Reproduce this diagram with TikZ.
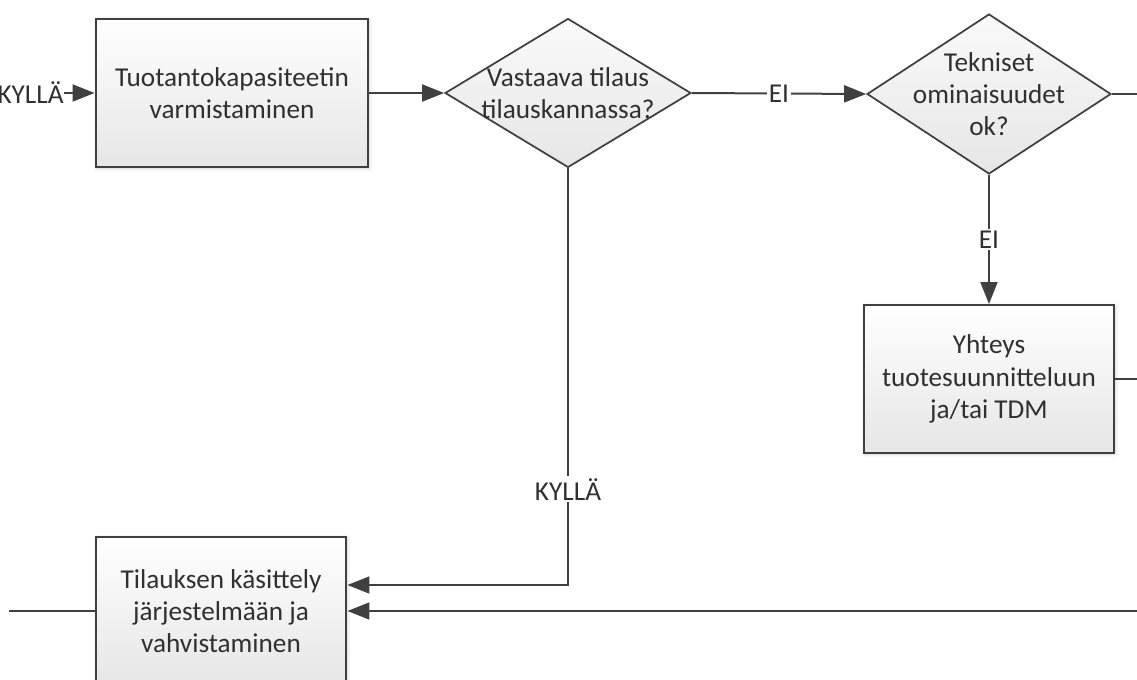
\documentclass[tikz,border=0pt]{standalone}
\usepackage{fontspec}
\setmainfont{Carlito}
\usetikzlibrary{arrows.meta,shapes.geometric,calc,shadows.blur}

\definecolor{linec}{HTML}{404040}
\definecolor{textc}{HTML}{303030}
\definecolor{fillb}{HTML}{E6E6E6}
\newcommand\dfont{\fontsize{15.5pt}{18.4pt}\selectfont}

\begin{document}
\begin{tikzpicture}[x=0.02cm, y=-0.02cm,
  every node/.style={text=textc, font=\dfont},
  procbox/.style={rectangle, draw=linec, line width=0.04cm,
    top color=white, bottom color=fillb, align=center, inner sep=0pt,
    blur shadow={shadow blur steps=6, shadow xshift=0.6pt, shadow yshift=-0.6pt, shadow opacity=18}},
  decbox/.style={diamond, draw=linec, line width=0.035cm,
    top color=white!96!gray, bottom color=fillb, inner sep=0pt},
  conn/.style={draw=linec, line width=0.04cm},
  arr/.style={conn, -{Triangle[length=0.44cm, width=0.34cm]}},
  lbl/.style={fill=white, inner sep=0.04cm}]

\useasboundingbox (0,0) rectangle (1137,680);

% process steps
\node[procbox, minimum width=5.46cm, minimum height=2.98cm] (b1) at (232,93)
  {Tuotantokapasiteetin\\varmistaminen};
\node[procbox, minimum width=5.02cm, minimum height=2.96cm] (b3) at (989,379)
  {Yhteys\\tuotesuunnitteluun\\ja/tai TDM};
\node[procbox, minimum width=5.02cm, minimum height=2.98cm] (b4) at (221,611)
  {Tilauksen käsittely\\järjestelmään ja\\vahvistaminen};

% decisions
\node[decbox, minimum width=4.92cm, minimum height=2.98cm,
  label={[align=center]center:Vastaava tilaus\\tilauskannassa?}] (d1) at (568,93) {};
\node[decbox, minimum width=4.88cm, minimum height=3.2cm,
  label={[align=center]center:Tekniset\\ominaisuudet\\ok?}] (d2) at (989,94) {};

% incoming branch on the left
\node[anchor=east, inner sep=0pt] (kin) at (64,93) {KYLLÄ};
\draw[arr] (kin.east) -- (b1.west);

% flow between the steps
\draw[arr] (b1.east) -- (d1.west);
\draw[arr] (d1.east) -- node[lbl]{EI} (d2.west);
\draw[arr] (d2.south) -- node[lbl]{EI} (b3.north);

\coordinate (k1) at ($(b4.east)+(0,-26)$);
\draw[arr] (d1.south) -- node[lbl, pos=0.77]{KYLLÄ} (d1.south |- k1) -- (k1);

% lines leaving the visible area
\coordinate (edgeR) at (1140,0);
\coordinate (edgeL) at (9,0);
\draw[conn] (d2.east) -- (d2.east -| edgeR);
\draw[conn] (b3.east) -- (b3.east -| edgeR);
\coordinate (r3) at (b4.east -| edgeR);
\draw[arr] (r3) -- (b4.east);
\draw[conn] (b4.west) -- (b4.west -| edgeL);
\end{tikzpicture}
\end{document}
